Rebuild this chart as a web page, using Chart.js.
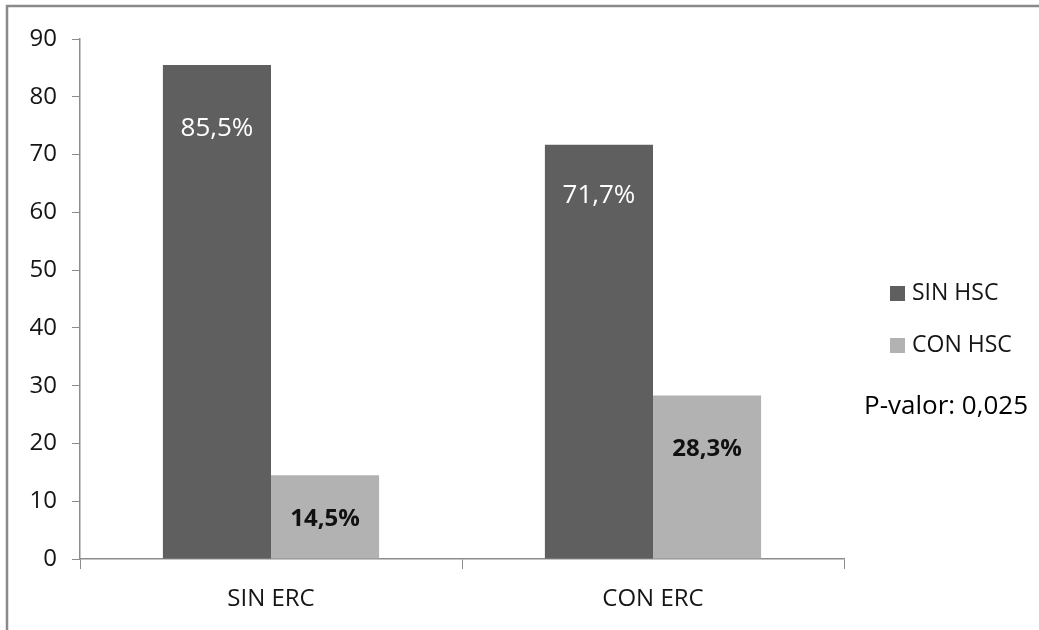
<!DOCTYPE html>
<html>
<head>
<meta charset="utf-8">
<script src="https://cdn.jsdelivr.net/npm/chart.js@4.4.1/dist/chart.umd.min.js"></script>
<style>
  html, body { margin: 0; padding: 0; background: #fff; }
  #wrap { width: 1039px; height: 630px; position: relative; }
</style>
</head>
<body>
<div id="wrap"><canvas id="chart" width="1039" height="630"></canvas></div>
<script>
// Data
const categories = ['SIN ERC', 'CON ERC'];
const seriesNames = ['SIN HSC', 'CON HSC'];
const sinHsc = [85.5, 71.7];
const conHsc = [14.5, 28.3];
const yTicks = [0, 10, 20, 30, 40, 50, 60, 70, 80, 90];
const pValueText = 'P-valor: 0,025';

const FONT = "'Open Sans', sans-serif";
const DARK = '#5f5f5f';
const LIGHT = '#b2b2b2';
const AXIS = '#8c8c8c';
const TEXT = '#151515';

// Frame on the left and top edges, as in the reference
const framePlugin = {
    id: 'frame',
    beforeDraw(chart) {
        const ctx = chart.ctx;
        ctx.save();
        ctx.fillStyle = '#ffffff';
        ctx.fillRect(0, 0, chart.width, chart.height);
        ctx.strokeStyle = '#8a8a8a';
        ctx.lineWidth = 2.5;
        ctx.beginPath();
        ctx.moveTo(7, chart.height);
        ctx.lineTo(7, 6);
        ctx.lineTo(chart.width, 6);
        ctx.stroke();
        ctx.restore();
    }
};

// Percent labels inside the bars
const barLabelPlugin = {
    id: 'barLabels',
    afterDatasetsDraw(chart, args, opts) {
        const ctx = chart.ctx;
        ctx.save();
        ctx.textAlign = 'center';
        ctx.textBaseline = 'middle';
        chart.data.datasets.forEach((ds, i) => {
            const meta = chart.getDatasetMeta(i);
            const style = opts.styles[i];
            ctx.fillStyle = style.color;
            ctx.font = style.weight + ' ' + style.size + 'px ' + FONT;
            meta.data.forEach((bar, j) => {
                const txt = ds.data[j].toFixed(1).replace('.', ',') + '%';
                ctx.fillText(txt, bar.x, bar.y + style.offsets[j]);
            });
        });
        ctx.restore();
    }
};

// Legend and p-value on the right side
const sideLegendPlugin = {
    id: 'sideLegend',
    afterDraw(chart, args, opts) {
        const ctx = chart.ctx;
        ctx.save();
        ctx.textBaseline = 'middle';
        ctx.textAlign = 'left';
        chart.data.datasets.forEach((ds, i) => {
            const y = opts.top + i * opts.gap;
            ctx.fillStyle = ds.backgroundColor;
            ctx.fillRect(opts.left, y - 7, 15, 15);
            ctx.fillStyle = TEXT;
            ctx.font = '23px ' + FONT;
            ctx.fillText(ds.label, opts.left + 22, y);
        });
        ctx.font = '26px ' + FONT;
        ctx.fillStyle = '#000';
        ctx.fillText(pValueText, opts.pLeft, opts.pTop);
        ctx.restore();
    }
};

new Chart(document.getElementById('chart'), {
    type: 'bar',
    data: {
        labels: categories,
        datasets: [
            { label: seriesNames[0], data: sinHsc, backgroundColor: DARK },
            { label: seriesNames[1], data: conHsc, backgroundColor: LIGHT }
        ]
    },
    options: {
        responsive: false,
        animation: false,
        devicePixelRatio: 1,
        layout: { padding: { left: 0, right: 195, top: 39, bottom: 0 } },
        datasets: {
            bar: { categoryPercentage: 0.566, barPercentage: 1.0 }
        },
        plugins: {
            legend: { display: false },
            tooltip: { enabled: false },
            barLabels: {
                styles: [
                    { color: '#ffffff', weight: 'normal', size: 26, offsets: [64, 51] },
                    { color: '#111111', weight: 'bold', size: 24, offsets: [44, 54] }
                ]
            },
            sideLegend: { left: 890, top: 293, gap: 52, pLeft: 864, pTop: 407 }
        },
        scales: {
            x: {
                grid: { drawOnChartArea: false, drawTicks: true, tickLength: 10, color: AXIS, offset: true },
                border: { color: AXIS, width: 1.5 },
                ticks: { color: TEXT, font: { family: FONT, size: 24 }, padding: 16 },
                afterFit(scale) { scale.height = 71; }
            },
            y: {
                min: 0,
                max: 90,
                afterBuildTicks(scale) { scale.ticks = yTicks.map(v => ({ value: v })); },
                grid: { drawOnChartArea: false, drawTicks: true, tickLength: 8, color: AXIS },
                border: { color: AXIS, width: 1.5 },
                ticks: { color: TEXT, font: { family: FONT, size: 24 }, padding: 15 },
                afterFit(scale) { scale.width = 80; }
            }
        }
    },
    plugins: [framePlugin, barLabelPlugin, sideLegendPlugin]
});
</script>
</body>
</html>
